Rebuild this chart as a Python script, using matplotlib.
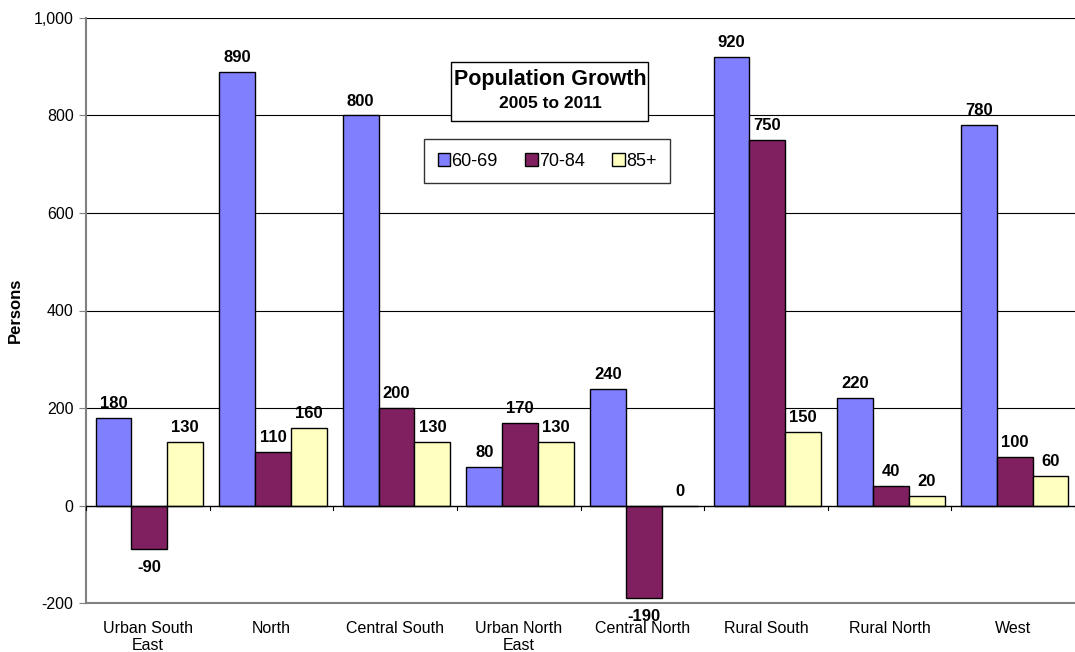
import matplotlib
matplotlib.use("Agg")
import matplotlib.pyplot as plt
import numpy as np

plt.rcParams['font.family'] = ['Liberation Sans', 'DejaVu Sans']

categories = ["Urban South\nEast", "North", "Central South", "Urban North\nEast",
              "Central North", "Rural South", "Rural North", "West"]
series_names = ["60-69", "70-84", "85+"]
s60 = [180, 890, 800, 80, 240, 920, 220, 780]
s70 = [-90, 110, 200, 170, -190, 750, 40, 100]
s85 = [130, 160, 130, 130, 0, 150, 20, 60]
colors = ["#8080FF", "#802060", "#FFFFC0"]
yticks = [-200, 0, 200, 400, 600, 800, 1000]

fig = plt.figure(figsize=(10.75, 6.52), dpi=100)
ax = fig.add_axes([86/1075, 1 - 603/652, (1075 - 86)/1075, (603 - 18)/652])

x = np.arange(len(categories))
w = 0.29
for i, (vals, c, name) in enumerate(zip([s60, s70, s85], colors, series_names)):
    bars = ax.bar(x + (i - 1) * w + 0.012, vals, w, color=c, edgecolor="black", linewidth=1.0,
                  label=name, zorder=3)
    for b, v in zip(bars, vals):
        xc = b.get_x() + b.get_width() / 2
        if v >= 0:
            ax.annotate(f"{v}", (xc, v), xytext=(0, 5), textcoords="offset points",
                        ha="center", va="bottom", fontsize=12, fontweight="bold", zorder=6)
        else:
            ax.annotate(f"{v}", (xc, v), xytext=(0, -8), textcoords="offset points",
                        ha="center", va="top", fontsize=12, fontweight="bold", zorder=6)

ax.set_xlim(-0.5, len(categories) - 0.5)
ax.set_ylim(-200, 1000)
ax.set_yticks(yticks)
ax.set_yticklabels([f"{t:,}" for t in yticks], fontsize=11.5)
for t in yticks[2:]:
    ax.axhline(t, color="black", linewidth=0.8, zorder=1)

ax.set_xticks(x)
ax.set_xticklabels(categories, fontsize=11.5, linespacing=1.2)
ax.tick_params(axis="x", length=0, pad=13)
ax.tick_params(axis="y", length=5, direction="out", color="#808080", pad=4)
ax.axhline(0, color="black", linewidth=1.0, zorder=4)
for b in np.arange(len(categories) + 1) - 0.5:
    ax.plot([b, b], [0, -10], color="black", linewidth=0.8, zorder=4, clip_on=False)

for side in ["top", "right"]:
    ax.spines[side].set_visible(False)
ax.spines["left"].set_color("#808080")
ax.spines["left"].set_linewidth(1.5)
ax.spines["bottom"].set_color("#808080")
ax.spines["bottom"].set_linewidth(1.5)

ax.set_ylabel("Persons", fontsize=12, fontweight="bold", labelpad=8)

# Title box
fig.patches.append(plt.Rectangle((451/1075, 1 - 121/652), 197/1075, 59/652,
                                 transform=fig.transFigure, facecolor="white",
                                 edgecolor="black", linewidth=1.0, zorder=5))
fig.text(550/1075, 1 - 80/652, "Population Growth", ha="center", va="center",
         fontsize=15.5, fontweight="bold", zorder=6)
fig.text(550/1075, 1 - 103/652, "2005 to 2011", ha="center", va="center",
         fontsize=12.5, fontweight="bold", zorder=6)

leg = ax.legend(loc="upper left", bbox_to_anchor=((424 - 86) / 989, 1 - (139 - 18) / 585),
                ncol=3, frameon=True, fancybox=False, edgecolor="black", fontsize=13,
                handlelength=0.7, handleheight=0.7, handletextpad=0.08, columnspacing=1.5,
                borderpad=0.75, borderaxespad=0)
leg.get_frame().set_linewidth(1.0)
leg.set_zorder(5)

fig.savefig("out.png", dpi=100)
